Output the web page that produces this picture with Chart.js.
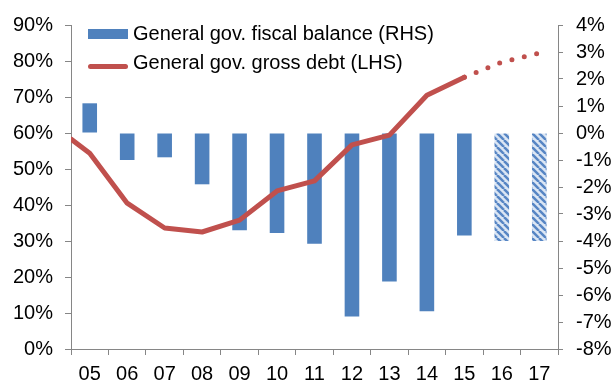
<!DOCTYPE html>
<html>
<head>
<meta charset="utf-8">
<script src="https://cdn.jsdelivr.net/npm/chart.js@4.4.1/dist/chart.umd.min.js"></script>
<style>
  html, body { margin: 0; padding: 0; background: #fff; }
  #wrap { position: relative; width: 611px; height: 380px; overflow: hidden; }
  #legend { position: absolute; left: 88px; top: 21px; font: 20px "Liberation Sans", Arial, sans-serif; color: #000; }
  .item { position: relative; height: 29px; line-height: 24px; padding-left: 45px; white-space: nowrap; }
  .swatch { position: absolute; left: 0; }
</style>
</head>
<body>
<div id="wrap">
  <canvas id="chart" width="611" height="380"></canvas>
  <div id="legend"></div>
</div>
<script>
const categories = ["05", "06", "07", "08", "09", "10", "11", "12", "13", "14", "15", "16", "17"];
const fiscalBalance = [1.1, -1.0, -0.9, -1.9, -3.6, -3.7, -4.1, -6.8, -5.5, -6.6, -3.8, -4.0, -4.0];
const debtEdge = 58.3; // value where the line enters at the left edge
const grossDebt = [54.4, 40.5, 33.6, 32.5, 35.8, 43.9, 46.7, 56.7, 59.4, 70.5, 75.5, 79.7, 82.2];
const firstForecast = 11; // "16" onwards are forecasts
const leftTicks = [0, 90, 10];
const rightTicks = [-8, 4, 1];

const blue = "#4F81BD";
const red = "#C0504D";
const axisGrey = "#868686";

Chart.defaults.font.family = '"Liberation Sans", Arial, sans-serif';
Chart.defaults.font.size = 20;
Chart.defaults.color = "#000";

const makeHatch = () => {
  const s = 7;
  const c = document.createElement("canvas");
  c.width = s;
  c.height = s;
  const g = c.getContext("2d");
  g.fillStyle = "#dbe6f4";
  g.fillRect(0, 0, s, s);
  g.strokeStyle = "#5685c4";
  g.lineWidth = 2.5;
  for (let k = -1; k <= 1; k++) {
    g.beginPath();
    g.moveTo(k * s, 0);
    g.lineTo(k * s + s, s);
    g.stroke();
  }
  return g.createPattern(c, "repeat");
};
const hatch = makeHatch();

const barColors = fiscalBalance.map((v, i) => (i >= firstForecast ? hatch : blue));

const debtPoints = [{ x: -0.5, y: debtEdge }].concat(
  grossDebt.map((v, i) => ({ x: i, y: v }))
);

const fixWidth = (w) => (scale) => { scale.width = w; };

const chart = new Chart(document.getElementById("chart"), {
  type: "bar",
  data: {
    labels: categories,
    datasets: [
      {
        type: "line",
        label: "General gov. gross debt (LHS)",
        data: debtPoints,
        xAxisID: "x2",
        yAxisID: "y",
        borderColor: red,
        backgroundColor: red,
        borderWidth: 5,
        borderCapStyle: "round",
        borderJoinStyle: "round",
        pointRadius: 0,
        tension: 0,
        order: 0,
        segment: {
          borderDash: (ctx) => (ctx.p0DataIndex >= firstForecast ? [0, 12.7] : undefined),
        },
      },
      {
        label: "General gov. fiscal balance (RHS)",
        data: fiscalBalance,
        xAxisID: "x",
        yAxisID: "y2",
        backgroundColor: barColors,
        categoryPercentage: 1,
        barPercentage: 0.39,
        grouped: false,
        order: 1,
      },
    ],
  },
  options: {
    responsive: false,
    animation: false,
    layout: { padding: { top: 25, left: 0, right: 0, bottom: 0 } },
    plugins: {
      legend: { display: false },
      tooltip: { enabled: false },
    },
    scales: {
      x: {
        type: "category",
        offset: true,
        grid: { offset: true, drawOnChartArea: false, tickLength: 6, color: axisGrey },
        border: { color: axisGrey },
        ticks: { padding: 7, maxRotation: 0, autoSkip: false },
        afterFit: (scale) => { scale.height = 31; },
      },
      x2: {
        type: "linear",
        display: false,
        offset: false,
        bounds: "ticks",
        grid: { offset: false },
        min: -0.5,
        max: categories.length - 0.5,
      },
      y: {
        position: "left",
        min: leftTicks[0],
        max: leftTicks[1],
        grid: { drawOnChartArea: false, tickLength: 6, color: axisGrey },
        border: { color: axisGrey },
        ticks: { stepSize: leftTicks[2], padding: 12, callback: (v) => v + "%" },
        afterFit: fixWidth(71),
      },
      y2: {
        position: "right",
        min: rightTicks[0],
        max: rightTicks[1],
        grid: { drawOnChartArea: false, tickLength: 5, color: axisGrey },
        border: { color: axisGrey },
        ticks: { stepSize: rightTicks[2], padding: 13, callback: (v) => v + "%" },
        afterFit: fixWidth(53),
      },
    },
  },
});

// legend drawn over the plot area, in the order of the original
const legendDiv = document.getElementById("legend");
[chart.data.datasets[1], chart.data.datasets[0]].forEach((ds) => {
  const item = document.createElement("div");
  item.className = "item";
  const sw = document.createElement("span");
  sw.className = "swatch";
  if (ds.type === "line") {
    sw.style.cssText = "left:0;top:13.5px;width:40px;height:5px;border-radius:3px;background:" + red;
  } else {
    sw.style.cssText = "left:0;top:8px;width:40px;height:10px;background:" + blue;
  }
  item.appendChild(sw);
  item.appendChild(document.createTextNode(ds.label));
  legendDiv.appendChild(item);
});
</script>
</body>
</html>
